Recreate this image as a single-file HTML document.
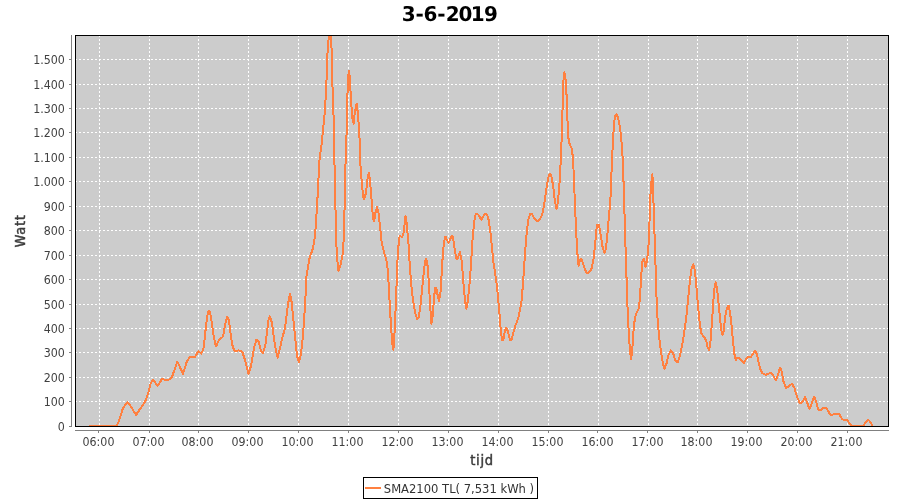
<!DOCTYPE html>
<html lang="nl"><head><meta charset="utf-8"><title>3-6-2019</title>
<style>
html,body{margin:0;padding:0;background:#fff;}
body{width:900px;height:500px;overflow:hidden;}
svg{display:block;}
text{font-family:"DejaVu Sans Condensed","DejaVu Sans","Liberation Sans",sans-serif;}
.tk{font-size:12.3px;fill:#404040;}
.ax{font-size:14.6px;fill:#3c3c3c;stroke:#3c3c3c;stroke-width:0.45px;letter-spacing:0.7px;}
.ttl{font-family:"DejaVu Sans","Liberation Sans",sans-serif;font-size:19.4px;font-weight:bold;fill:#000;text-rendering:geometricPrecision;}
.lg{font-size:12.85px;fill:#333;}
</style></head><body>
<svg width="900" height="500" viewBox="0 0 900 500">
<rect x="0" y="0" width="900" height="500" fill="#ffffff"/>
<text class="ttl" transform="translate(0 21.1) scale(1.03 1.05)" x="390.05 403.33 411.16 424.45 432.67 445.24 457.17 469.90">3-6-2019</text>
<rect x="75" y="35" width="814" height="392" fill="#cccccc"/>
<clipPath id="cp"><rect x="76" y="36" width="812" height="391"/></clipPath>
<g stroke="#ffffff" stroke-width="1" stroke-dasharray="2 2" shape-rendering="crispEdges">
<line x1="99.5" y1="35" x2="99.5" y2="426"/>
<line x1="149.5" y1="35" x2="149.5" y2="426"/>
<line x1="198.5" y1="35" x2="198.5" y2="426"/>
<line x1="248.5" y1="35" x2="248.5" y2="426"/>
<line x1="298.5" y1="35" x2="298.5" y2="426"/>
<line x1="348.5" y1="35" x2="348.5" y2="426"/>
<line x1="398.5" y1="35" x2="398.5" y2="426"/>
<line x1="448.5" y1="35" x2="448.5" y2="426"/>
<line x1="498.5" y1="35" x2="498.5" y2="426"/>
<line x1="548.5" y1="35" x2="548.5" y2="426"/>
<line x1="598.5" y1="35" x2="598.5" y2="426"/>
<line x1="648.5" y1="35" x2="648.5" y2="426"/>
<line x1="697.5" y1="35" x2="697.5" y2="426"/>
<line x1="747.5" y1="35" x2="747.5" y2="426"/>
<line x1="797.5" y1="35" x2="797.5" y2="426"/>
<line x1="847.5" y1="35" x2="847.5" y2="426"/>
<line x1="75" y1="401.5" x2="888" y2="401.5"/>
<line x1="75" y1="377.5" x2="888" y2="377.5"/>
<line x1="75" y1="352.5" x2="888" y2="352.5"/>
<line x1="75" y1="328.5" x2="888" y2="328.5"/>
<line x1="75" y1="304.5" x2="888" y2="304.5"/>
<line x1="75" y1="279.5" x2="888" y2="279.5"/>
<line x1="75" y1="255.5" x2="888" y2="255.5"/>
<line x1="75" y1="230.5" x2="888" y2="230.5"/>
<line x1="75" y1="206.5" x2="888" y2="206.5"/>
<line x1="75" y1="181.5" x2="888" y2="181.5"/>
<line x1="75" y1="157.5" x2="888" y2="157.5"/>
<line x1="75" y1="132.5" x2="888" y2="132.5"/>
<line x1="75" y1="108.5" x2="888" y2="108.5"/>
<line x1="75" y1="84.5" x2="888" y2="84.5"/>
<line x1="75" y1="59.5" x2="888" y2="59.5"/>
</g>
<path clip-path="url(#cp)" d="M90 426 L116.6 426 L119 421 L123 408 L127.4 402.4 L130 405 L136 415 L140 409 L145 402 L148 394 L150.4 384 L153 379.6 L157.6 386 L162 379 L168 380.4 L172 377 L177.4 361.6 L183 374 L187 361 L190 357 L195 357 L198.4 351 L201.4 353.6 L203.6 348 L206 326 L208 312 L209.4 311 L211 317 L213.6 336 L216 346.6 L219 340 L223 336.6 L226 320 L227.4 316.6 L229 321 L232 344 L234.4 351 L239 350.4 L242.4 352 L245 360 L248.4 374 L251 366 L254 348 L256.4 339.6 L258.4 341 L261 351 L263 353 L265.6 344 L268.4 320 L270 316.4 L272 323 L275 346 L277.6 357.6 L280 348 L282 339 L285 328 L288 304 L290 294 L291.6 302 L294 326 L297 356 L299 362.4 L301 354 L303 336 L305 306 L306.5 276 L309.6 258 L313 248 L315 236 L316.4 216 L317.6 196 L318.4 180 L319.6 158 L321.6 144 L323.4 126 L325 110 L326 90 L327 70 L327.6 50 L329 34 L331 34 L331.6 50 L332 70 L332.6 90 L333.4 110 L334 135 L334.4 160 L335 185 L335.6 214 L336 236 L337 258 L338.5 270.8 L340.6 265 L342.6 254.5 L343.8 238 L344.4 216 L345 185 L345.6 160 L346.4 140 L347 112 L347.6 90 L348 76 L349.2 71 L350 82 L351 100 L352.4 118 L353.6 123.6 L355 111 L356.6 103.6 L358 114 L359.4 135 L360.4 164 L361.6 180 L363 196 L364 199.4 L366 193 L367.6 178 L368.8 173 L370 180 L371.4 198 L373 218 L374 221.6 L375.6 212 L377 207 L378.4 212 L380 226 L381.6 242 L384 252 L386.4 260 L388 272 L389.4 298 L391 326 L392.4 344 L393.4 349.6 L394.4 336 L395.4 314 L396.4 290 L397 270 L398 250 L399.6 236 L402 237 L403.6 233 L404.8 222 L405.5 216.4 L406.6 223 L408.4 242 L409.6 262 L411 282 L413 300 L415 312 L417 319 L418.6 318 L420.6 304 L422.6 284 L424 270 L425.4 260 L426.4 259 L427.6 266 L429 284 L430 304 L431.4 324 L432.4 318 L433.6 304 L435 288 L436.4 288 L437.6 295 L439 301 L440.4 294 L441.6 275 L442.6 258 L444 242 L445.5 236.6 L448.5 243 L451.8 235.6 L453 237.5 L454.4 247 L456.4 259 L457.6 258.5 L459.8 252 L461.4 259 L462.6 272 L464 290 L465.4 303 L466.4 308.6 L467.6 302 L469 290 L470.8 268 L472.2 244 L473.6 228 L474.8 218 L476 213.6 L478 214.4 L481.4 219.6 L484.4 214.4 L486.4 213.6 L488.3 218 L490.4 232 L492 248 L493.6 264 L495 272 L497 286 L499 308 L500.6 328 L502 340 L503.4 340 L505 330 L506.4 327.6 L508 332 L510 340 L511.6 340 L513.6 332 L515.6 325 L518 319 L520 310 L521.6 300 L523 284 L524.2 266 L525.4 248 L527 230 L528.6 218 L530.4 213.6 L532 214 L534.4 218.4 L537.4 221.4 L540 219 L542 215 L543.6 208 L545.8 193 L547.3 183 L548.4 177 L550 173.6 L551.6 177 L553.4 188 L555 202 L556.6 209 L558 201 L559.6 182 L560.8 160 L561.6 140 L562.3 118 L563 92 L563.6 78 L564.4 72 L565.6 80 L566.6 96 L567.4 118 L568 136 L569.6 144 L571.6 148 L573 158 L574 180 L575 206 L576.6 240 L577.6 256 L578.6 266 L580 260 L581.4 259 L583 263 L585 270 L587 273 L589 272.4 L591.4 269 L593.4 260 L595 246 L596.4 230 L597.3 225 L598.7 225 L599.6 228 L601 237 L602.6 247 L604.4 253 L605.8 249 L607.2 237 L608.6 220 L610.4 200 L611.2 180 L612 160 L613 140 L614.2 122 L615.4 115.6 L616.6 114.2 L618.2 118 L620 128 L621.4 140 L622.8 160 L623.6 184 L624.4 210 L625 230 L625.6 250 L626.4 274 L627.4 304 L628.6 330 L630 352 L631.2 359 L632.4 348 L633.6 330 L635 317 L637 312 L639 308 L640.2 294 L641.2 276 L642.6 260 L644 259 L645.6 267 L647 260 L648.2 250 L649 237 L649.5 222 L649.9 210 L650.4 196 L651.2 184 L652.4 174 L653 188 L653.4 200 L654 215 L654.4 230 L655 250 L655.8 274 L656.6 300 L657.6 320 L659 336 L661 352 L663 364 L664.6 368.6 L666.4 364 L668.4 355 L671 350.4 L673 353 L675.6 361 L677.6 362.4 L679.6 357 L682 346 L684 334 L686 320 L687.6 304 L689 290 L690.2 278 L691.6 268 L693.2 264.4 L694.6 269 L696 281 L697 294 L698.4 310 L700 326 L701.6 334 L704 337 L706 340 L707.6 347 L709 350.4 L710.4 343 L712.1 320 L713.4 300 L714.6 287 L715.6 282.4 L717 288 L718.4 302 L720 318 L721.4 331 L722.6 335 L723.8 331 L724.8 320 L726 311 L727.5 307.5 L728.5 305.6 L730 312 L731.6 326 L733 342 L734.4 354 L735.8 360 L737.6 357.6 L739.4 358 L741.4 360.6 L743.8 363 L746 359 L748 356.8 L751 357 L753.2 353.6 L755.2 350.5 L757 354.5 L758.8 363.5 L760.6 370 L762.6 373.4 L765.6 374.8 L769 373.5 L771.2 372.5 L773.4 376 L775.8 380 L777.8 375.5 L780 367.4 L781.6 371 L783.6 382 L786 388 L789 386 L792 383.6 L794.4 388 L797 397 L800 403.4 L802.4 402 L805 397 L807 402 L809.4 409 L811.6 404 L814 396.6 L816 401 L818.4 410 L821 410 L823.6 407.6 L826.4 408 L829 412.6 L830.8 415 L835 414 L839 413.8 L842.4 419.4 L845 420 L847.4 420.4 L850 424 L852 426 L863 426 L866 422 L868.4 419.8 L870.4 422 L872.6 426" fill="none" stroke="#ff8040" stroke-width="2" stroke-linejoin="round" stroke-linecap="round" shape-rendering="crispEdges"/>
<rect x="75.5" y="35.5" width="813" height="391" fill="none" stroke="#000" stroke-width="1" shape-rendering="crispEdges"/>
<g stroke="#808080" stroke-width="1" shape-rendering="crispEdges">
<line x1="71.5" y1="35" x2="71.5" y2="427"/>
<line x1="75" y1="430.5" x2="889" y2="430.5"/>
<line x1="98.5" y1="431" x2="98.5" y2="433"/>
<line x1="149.5" y1="431" x2="149.5" y2="433"/>
<line x1="198.5" y1="431" x2="198.5" y2="433"/>
<line x1="248.5" y1="431" x2="248.5" y2="433"/>
<line x1="298.5" y1="431" x2="298.5" y2="433"/>
<line x1="348.5" y1="431" x2="348.5" y2="433"/>
<line x1="398.5" y1="431" x2="398.5" y2="433"/>
<line x1="448.5" y1="431" x2="448.5" y2="433"/>
<line x1="498.5" y1="431" x2="498.5" y2="433"/>
<line x1="548.5" y1="431" x2="548.5" y2="433"/>
<line x1="597.5" y1="431" x2="597.5" y2="433"/>
<line x1="647.5" y1="431" x2="647.5" y2="433"/>
<line x1="697.5" y1="431" x2="697.5" y2="433"/>
<line x1="747.5" y1="431" x2="747.5" y2="433"/>
<line x1="797.5" y1="431" x2="797.5" y2="433"/>
<line x1="847.5" y1="431" x2="847.5" y2="433"/>
<line x1="69" y1="426.5" x2="71" y2="426.5"/>
<line x1="69" y1="401.5" x2="71" y2="401.5"/>
<line x1="69" y1="377.5" x2="71" y2="377.5"/>
<line x1="69" y1="352.5" x2="71" y2="352.5"/>
<line x1="69" y1="328.5" x2="71" y2="328.5"/>
<line x1="69" y1="304.5" x2="71" y2="304.5"/>
<line x1="69" y1="279.5" x2="71" y2="279.5"/>
<line x1="69" y1="255.5" x2="71" y2="255.5"/>
<line x1="69" y1="230.5" x2="71" y2="230.5"/>
<line x1="69" y1="206.5" x2="71" y2="206.5"/>
<line x1="69" y1="181.5" x2="71" y2="181.5"/>
<line x1="69" y1="157.5" x2="71" y2="157.5"/>
<line x1="69" y1="132.5" x2="71" y2="132.5"/>
<line x1="69" y1="108.5" x2="71" y2="108.5"/>
<line x1="69" y1="84.5" x2="71" y2="84.5"/>
<line x1="69" y1="59.5" x2="71" y2="59.5"/>
</g>
<g class="tk" text-anchor="end">
<text x="64.8" y="430.9">0</text>
<text x="64.8" y="405.9">100</text>
<text x="64.8" y="381.9">200</text>
<text x="64.8" y="356.9">300</text>
<text x="64.8" y="332.9">400</text>
<text x="64.8" y="308.9">500</text>
<text x="64.8" y="283.9">600</text>
<text x="64.8" y="259.9">700</text>
<text x="64.8" y="234.9">800</text>
<text x="64.8" y="210.9">900</text>
<text x="64.8" y="185.9">1.000</text>
<text x="64.8" y="161.9">1.100</text>
<text x="64.8" y="136.9">1.200</text>
<text x="64.8" y="112.9">1.300</text>
<text x="64.8" y="88.9">1.400</text>
<text x="64.8" y="63.9">1.500</text>
</g>
<g class="tk" text-anchor="middle">
<text x="98.5" y="446">06:00</text>
<text x="148.5" y="446">07:00</text>
<text x="197.5" y="446">08:00</text>
<text x="247.5" y="446">09:00</text>
<text x="297.5" y="446">10:00</text>
<text x="347.5" y="446">11:00</text>
<text x="397.5" y="446">12:00</text>
<text x="447.5" y="446">13:00</text>
<text x="497.5" y="446">14:00</text>
<text x="547.5" y="446">15:00</text>
<text x="597.5" y="446">16:00</text>
<text x="647.5" y="446">17:00</text>
<text x="696.5" y="446">18:00</text>
<text x="746.5" y="446">19:00</text>
<text x="796.5" y="446">20:00</text>
<text x="846.5" y="446">21:00</text>
</g>
<text class="ax" x="482" y="465" text-anchor="middle">tijd</text>
<text class="ax" transform="translate(25.4 231) rotate(-90)" text-anchor="middle">Watt</text>
<rect x="363.5" y="477.5" width="174" height="21" fill="#fff" stroke="#000" stroke-width="1" shape-rendering="crispEdges"/>
<line x1="365" y1="488" x2="381" y2="488" stroke="#ff8040" stroke-width="2" shape-rendering="crispEdges"/>
<text class="lg" x="383.8" y="492.5">SMA2100 TL( 7,531 kWh )</text>
</svg></body></html>
